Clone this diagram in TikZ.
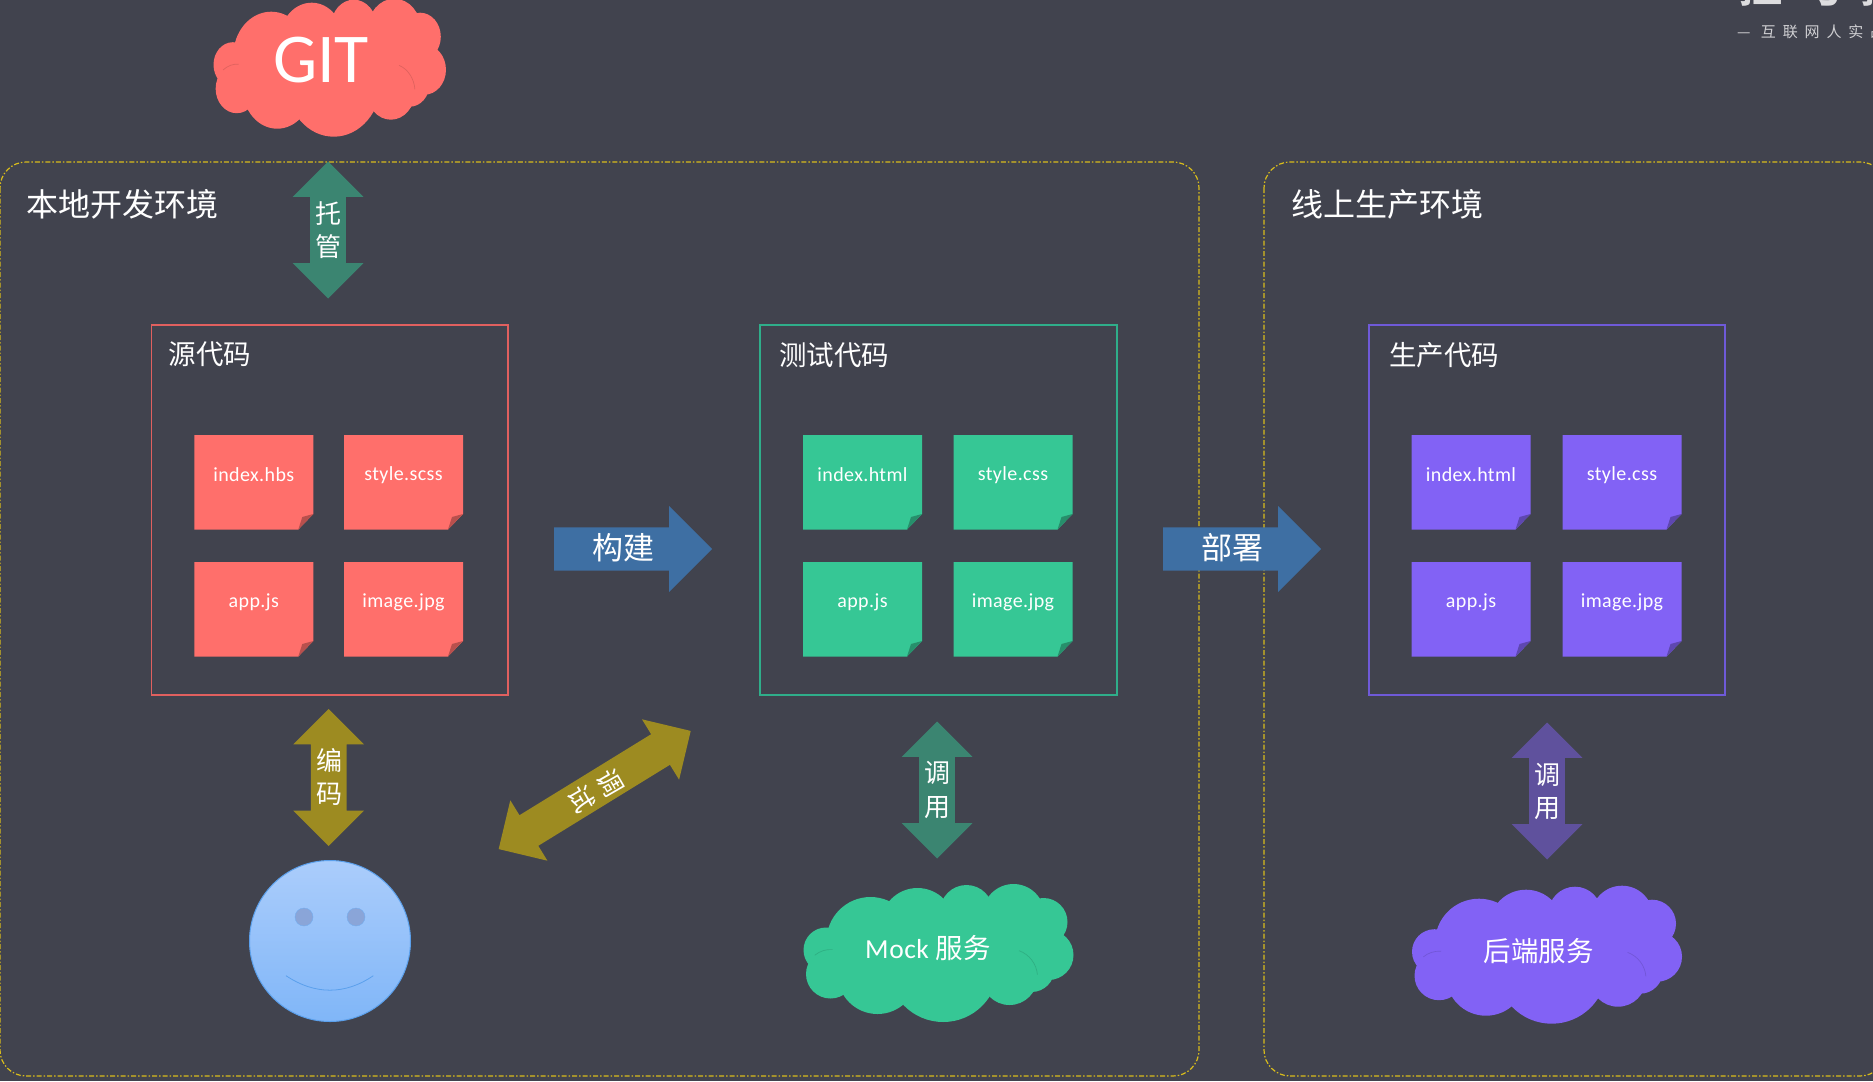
\documentclass[tikz,border=0pt]{standalone}
\usepackage{fontspec}
\setmainfont{Noto Sans CJK SC}
\newfontfamily\latinfont{Carlito}
\newfontfamily\notefont[LetterSpace=2]{Carlito}
\newfontfamily\slogenfont[LetterSpace=46]{Noto Sans CJK SC}
\newfontfamily\logofont[LetterSpace=36]{Noto Sans CJK SC Bold}
\usetikzlibrary{shapes.arrows}

\definecolor{bgdark}{HTML}{41434E}
\definecolor{panelline}{HTML}{D8BC1C}
\definecolor{coral}{HTML}{FF6F6B}
\definecolor{mint}{HTML}{36C795}
\definecolor{violet}{HTML}{8262F5}
\definecolor{coralline}{HTML}{E0605F}
\definecolor{mintline}{HTML}{2FAE8A}
\definecolor{violetline}{HTML}{6F5AD8}
\definecolor{deepgreen}{HTML}{3B8571}
\definecolor{olive}{HTML}{9D8B21}
\definecolor{steel}{HTML}{3E6FA3}
\definecolor{deepviolet}{HTML}{5F519D}
\definecolor{facetop}{HTML}{ABCDFB}
\definecolor{facebottom}{HTML}{80B6F8}
\definecolor{faceline}{HTML}{5BA0EC}
\definecolor{faceeye}{HTML}{8AA5D8}

\tikzset{
    % Панели и рамки
    panelbox/.style={draw=panelline, line width=1.2pt, rounded corners=26pt,
        dash pattern=on 5pt off 2pt on 1.5pt off 2pt},
    codebox/.style={draw=#1, line width=1.2pt},
    % Стрелки (текст подписывается отдельным узлом)
    updownarrow/.style={double arrow, rotate=#1, fill=\arrowcol, inner sep=17.75pt,
        minimum height=137pt, minimum width=70pt, double arrow head extend=17.5pt},
    rightarrow/.style={single arrow, fill=steel, inner sep=21.5pt, anchor=tail,
        minimum height=158pt, minimum width=86pt, single arrow head extend=21.5pt},
    % Подписи
    paneltext/.style={text=white, anchor=center, inner sep=0pt, font=\fontsize{32}{36}\selectfont},
    boxtext/.style={text=white, anchor=center, inner sep=0pt, font=\fontsize{27.5}{32}\selectfont},
    stacktext/.style={text=white, align=center, inner sep=0pt, font=\fontsize{26}{33.5}\selectfont},
    notetext/.style={text=white, inner sep=0pt, font=\notefont\fontsize{20}{24}\selectfont}
}

% имя, x, y, цвет, подпись
\newcommand{\stickynote}[5]{%
    \fill[#4] (#2,#3) -- ++(119,0) -- ++(0,79) -- ++(-15,15.5) -- ++(-104,0) -- cycle;
    \fill[#4!72!black] (#2+104,#3+94.5) -- ++(15,-15.5) -- ++(-11,3) -- cycle;
    \node (#1) [notetext] at (#2+59.5,#3+40) {#5};
}

% x, y, растяжение по x, цвет
\newcommand{\cloudblob}[4]{%
    \begin{scope}[shift={(#1,#2)}, xscale=#3]
        \foreach \cx/\cy/\cr in {22.5/66/22.5, 67/57/44, 114/41/37, 163/27.5/26.5,
            210/31/31, 240/38/24, 245/71/25, 206/93/28, 139.7/83/55, 74/90/40,
            27/90/24.5, 130/70/55, 190/65/40, 228/85/23}
            \fill[#4] (\cx,\cy) circle[radius=\cr];
        \draw[#4!88!black, line width=.7pt] (206,93) ++(-70:28) arc[start angle=-70, end angle=-5, radius=28];
        \draw[#4!88!black, line width=.7pt] (27,90) ++(-130:24.5) arc[start angle=-130, end angle=-85, radius=24.5];
    \end{scope}
}

\begin{document}
\begin{tikzpicture}[x=1pt, y=-1pt]

    \useasboundingbox (0,0) rectangle (1873,1081);
    \fill[bgdark] (0,0) rectangle (1873,1081);

    % Знак в углу
    \node (logo) [anchor=base west, inner sep=0pt, text=white!82!bgdark, font=\logofont\fontsize{44}{50}\selectfont] at (1738,3) {拉勾教};
    \node (slogan) [anchor=west, inner sep=0pt, text=white!75!bgdark, font=\slogenfont\fontsize{15}{18}\selectfont] at (1737,32) {— 互联网人实战};

    % Панели
    \draw[panelbox] (0,162) rectangle (1199,1076);
    \draw[panelbox] (1264,162) rectangle (1886,1076);
    \node (localtitle) [paneltext] at (123,204) {本地开发环境};
    \node (onlinetitle) [paneltext] at (1387,204) {线上生产环境};

    % Облако GIT
    \cloudblob{213.5}{-1.3}{.861}{coral}
    \node (gitcloud) [text=white, inner sep=0pt, font=\latinfont\fontsize{70}{80}\selectfont] at (321,60) {GIT};

    % Исходный код
    \draw[codebox=coralline] (151.5,325) rectangle (508,695);
    \node (srctitle) [boxtext] at (210,354) {源代码};
    \stickynote{srcindex}{194.3}{435}{coral}{index.hbs}
    \stickynote{srcstyle}{344}{435}{coral}{style.scss}
    \stickynote{srcapp}{194.3}{562}{coral}{app.js}
    \stickynote{srcimage}{344}{562}{coral}{image.jpg}

    % Тестовый код
    \draw[codebox=mintline] (760,325) rectangle (1117,695);
    \node (testtitle) [boxtext] at (834,355) {测试代码};
    \stickynote{testindex}{803}{435}{mint}{index.html}
    \stickynote{teststyle}{953.5}{435}{mint}{style.css}
    \stickynote{testapp}{803}{562}{mint}{app.js}
    \stickynote{testimage}{953.5}{562}{mint}{image.jpg}

    % Рабочий код
    \draw[codebox=violetline] (1369,325) rectangle (1725,695);
    \node (prodtitle) [boxtext] at (1444,355) {生产代码};
    \stickynote{prodindex}{1411.5}{435}{violet}{index.html}
    \stickynote{prodstyle}{1562.5}{435}{violet}{style.css}
    \stickynote{prodapp}{1411.5}{562}{violet}{app.js}
    \stickynote{prodimage}{1562.5}{562}{violet}{image.jpg}

    % Стрелки вправо
    \node (buildarrow) [rightarrow] at (554,549) {};
    \node (buildtext) [boxtext, font=\fontsize{31}{36}\selectfont] at (623,548) {构建};
    \node (deployarrow) [rightarrow] at (1163,549) {};
    \node (deploytext) [boxtext, font=\fontsize{31}{36}\selectfont] at (1232,548) {部署};

    % Двойные стрелки
    \def\arrowcol{deepgreen}
    \node (hostarrow) [updownarrow=90] at (328,230) {};
    \node (hosttext) [stacktext] at (328.5,230) {托\\管};
    \def\arrowcol{olive}
    \node (codearrow) [updownarrow=90] at (328.7,777.5) {};
    \node (codetext) [stacktext] at (329,777) {编\\码};
    \node (debugarrow) [updownarrow=31.6, minimum height=225.5pt] at (594.7,790) {};
    \node (debugtext) [stacktext, rotate=-60] at (596,791) {调\\试};
    \def\arrowcol{deepgreen}
    \node (mockarrow) [updownarrow=90] at (937,790) {};
    \node (mocktext) [stacktext] at (937,790) {调\\用};
    \def\arrowcol{deepviolet}
    \node (prodarrow) [updownarrow=90] at (1547,791) {};
    \node (prodtext) [stacktext] at (1547,791.5) {调\\用};

    % Смайлик
    \node (smiley) [circle, draw=faceline, line width=1pt, top color=facetop, bottom color=facebottom, minimum size=161pt, inner sep=0pt] at (330,941) {};
    \node (lefteye) [circle, draw=faceline!70!facetop, fill=faceeye, minimum size=18pt, inner sep=0pt] at (304,917) {};
    \node (righteye) [circle, draw=faceline!70!facetop, fill=faceeye, minimum size=18pt, inner sep=0pt] at (356,917) {};
    \draw[faceline, line width=.8pt] (286,975.7) .. controls (315,995) and (345,995) .. (373.3,975.7);

    % Нижние облака
    \cloudblob{803.5}{884}{1}{mint}
    \node (mockcloud) [boxtext] at (928,948) {\notefont Mock \rmfamily 服务};
    \cloudblob{1412}{885.7}{1}{violet}
    \node (backcloud) [boxtext] at (1538.7,950.7) {后端服务};

\end{tikzpicture}
\end{document}
